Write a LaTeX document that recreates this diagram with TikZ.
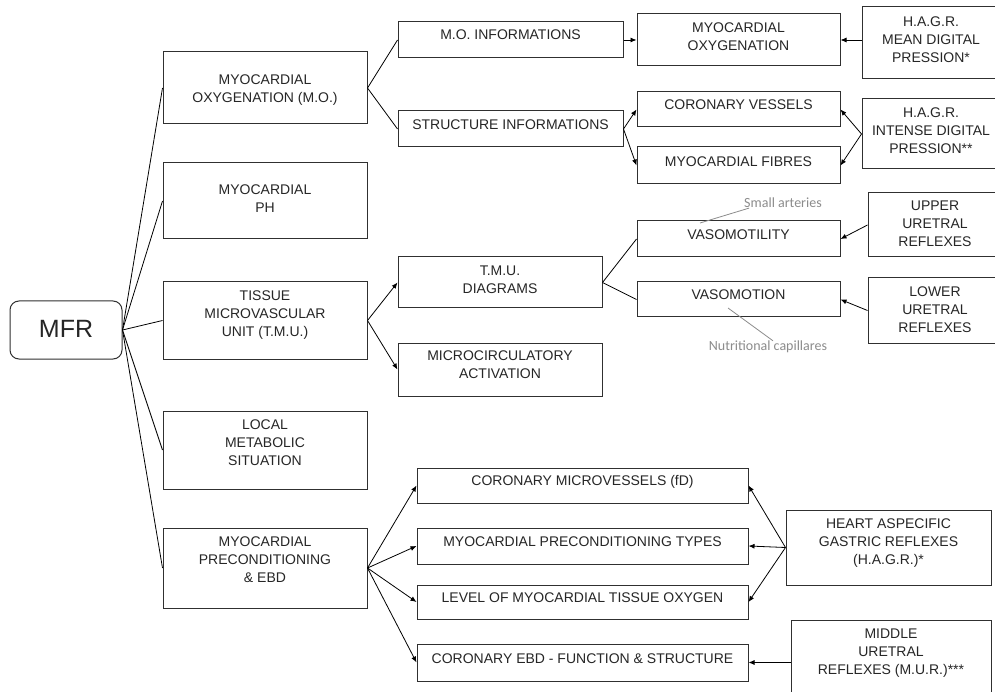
\documentclass[tikz,border=0pt]{standalone}
\usepackage{fontspec}
\setmainfont{Liberation Sans}
\newfontfamily\notefont{Carlito}
\usetikzlibrary{arrows.meta}
\definecolor{boxline}{HTML}{303030}
\definecolor{txtcol}{HTML}{262626}
\definecolor{notecol}{HTML}{8C8C8C}
\tikzset{
  bx/.style={draw=boxline, line width=1pt, rectangle, inner sep=0pt, fill=white},
  txt/.style={align=center, text=txtcol, inner sep=0pt, font=\fontsize{14}{18}\selectfont},
  con/.style={draw=black, line width=0.8pt},
  arr/.style={con, -{Latex[length=6pt,width=5pt]}},
  note/.style={text=notecol, inner sep=0pt, font=\notefont\fontsize{14}{17}\selectfont},
  noteline/.style={draw=notecol, line width=0.8pt}
}
% name, x1, y1, x2, y2, text shift (up), text
\newcommand\bnode[7]{%
  \node[bx, minimum width={(#4-#2)*1pt}, minimum height={(#5-#3)*1pt}] (#1) at ({(#2+#4)/2},{(#3+#5)/2}) {};
  \node[txt] (#1-t) at ([yshift=#6pt]#1.center) {#7};}
\begin{document}
\begin{tikzpicture}[x=1pt,y=-1pt]
\path[use as bounding box, fill=white] (0,0) rectangle (995,692);

% root
\node[draw=boxline, line width=1pt, rounded corners=9pt, minimum width=112pt, minimum height=58pt, inner sep=0pt] (mfr) at (66,330) {};
\node[txt, font=\fontsize{25}{30}\selectfont] (mfr-t) at ([yshift=1pt]mfr.center) {MFR};

% level 1
\bnode{mo}{163}{52}{367}{124}{-2}{MYOCARDIAL\\OXYGENATION (M.O.)}
\bnode{ph}{163}{163}{367}{239}{2}{MYOCARDIAL\\PH}
\bnode{tmu}{163}{282}{367}{359}{5}{TISSUE\\MICROVASCULAR\\UNIT (T.M.U.)}
\bnode{lms}{163}{411}{367}{489}{7}{LOCAL\\METABOLIC\\SITUATION}
\bnode{pre}{163}{528}{367}{608}{8}{MYOCARDIAL\\PRECONDITIONING\\\& EBD}

% level 2
\bnode{moi}{398}{22}{623}{58}{5}{M.O. INFORMATIONS}
\bnode{si}{398}{111}{623}{147}{4}{STRUCTURE INFORMATIONS}
\bnode{tmud}{398}{257}{602}{308}{3}{T.M.U.\\DIAGRAMS}
\bnode{mca}{398}{343}{602}{396}{5}{MICROCIRCULATORY\\ACTIVATION}
\bnode{cmv}{417}{468}{748}{503}{4}{CORONARY MICROVESSELS (fD)}
\bnode{mpt}{417}{528}{748}{564}{4}{MYOCARDIAL PRECONDITIONING TYPES}
\bnode{lmt}{417}{585}{748}{619}{4}{LEVEL OF MYOCARDIAL TISSUE OXYGEN}
\bnode{ebd}{417}{644}{748}{681}{4}{CORONARY EBD - FUNCTION \& STRUCTURE}

% level 3
\bnode{moxy}{637}{14}{840}{66}{3}{MYOCARDIAL\\OXYGENATION}
\bnode{cv}{637}{92}{840}{127}{5}{CORONARY VESSELS}
\bnode{mf}{637}{147}{840}{184}{4}{MYOCARDIAL FIBRES}
\bnode{vmt}{637}{221}{840}{257}{4}{VASOMOTILITY}
\bnode{vmn}{637}{282}{840}{317}{5}{VASOMOTION}

% right column
\bnode{hagra}{862}{7}{1000}{79}{3}{H.A.G.R.\\MEAN DIGITAL\\PRESSION*}
\bnode{hagrb}{862}{99}{1000}{169}{3}{H.A.G.R.\\INTENSE DIGITAL\\PRESSION**}
\bnode{uur}{868}{193}{1002}{257}{1}{UPPER\\URETRAL\\REFLEXES}
\bnode{lur}{868}{278}{1002}{343}{1}{LOWER\\URETRAL\\REFLEXES}
\bnode{has}{786}{510}{991}{585}{4}{HEART ASPECIFIC\\GASTRIC REFLEXES\\(H.A.G.R.)*}
\bnode{mur}{791}{620}{991}{700}{7}{MIDDLE\\URETRAL\\REFLEXES (M.U.R.)***}

% notes
\node[note] (sa) at (783,203) {Small arteries};
\coordinate (saend) at (700,223);
\node[note] (nc) at (768,347) {Nutritional capillares};
\coordinate (ncstart) at (728,308);
\draw[noteline] ([xshift=5pt]sa.south west) -- (saend);
\draw[noteline] (ncstart) -- ([xshift=5pt]nc.north);

% connectors root
\foreach \t in {mo,ph,tmu,lms,pre} \draw[con] (mfr.east) -- (\t.west);

% M.O.
\draw[con] (mo.east) -- (moi.west);
\draw[con] (mo.east) -- (si.west);
\draw[arr] (moi.east) -- (moxy.west |- moi.east);
\draw[arr] (si.east) -- (cv.west);
\draw[arr] (si.east) -- (mf.west);
\draw[arr] (hagra.west |- moxy.east) -- (moxy.east);
\draw[arr] (hagrb.west) -- (cv.east);
\draw[arr] (hagrb.west) -- (mf.east);

% T.M.U.
\draw[arr] (tmu.east) -- (tmud.west);
\draw[arr] (tmu.east) -- (mca.west);
\draw[con] (tmud.east) -- (vmt.west);
\draw[con] (tmud.east) -- (vmn.west);
\draw[arr] (uur.west) -- (vmt.east);
\draw[arr] (lur.west) -- (vmn.east);

% preconditioning
\foreach \t in {cmv,mpt,lmt,ebd} \draw[arr] (pre.east) -- (\t.west);
\foreach \t in {cmv,mpt,lmt} \draw[arr] (has.west) -- (\t.east);
\draw[arr] (mur.west |- ebd.east) -- (ebd.east);
\end{tikzpicture}
\end{document}
